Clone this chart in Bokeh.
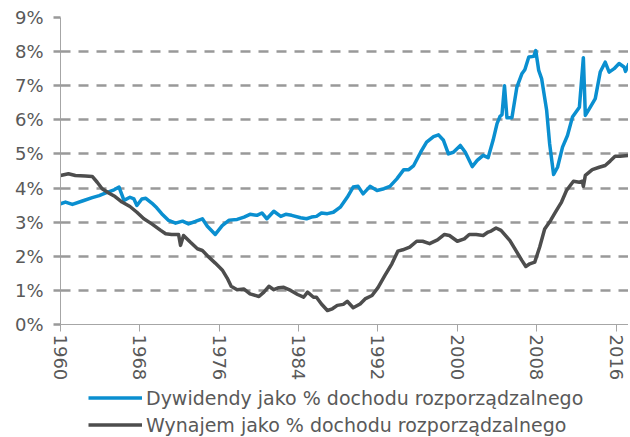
from bokeh.plotting import figure
from bokeh.layouts import column
from bokeh.models import Legend, LegendItem, FixedTicker, Range1d, ColumnDataSource, CustomJSTickFormatter
from bokeh.embed import file_html
from bokeh.resources import INLINE

div_years = [1960.0, 1960.5, 1961.2, 1962.2, 1963.2, 1963.9, 1964.5, 1965.4, 1965.9, 1966.4,
             1967.0, 1967.4, 1967.7, 1968.2, 1968.6, 1969.2, 1969.7, 1970.2, 1970.9, 1971.6,
             1972.3, 1972.9, 1973.6, 1974.3, 1974.8, 1975.6, 1976.3, 1977.0, 1977.8, 1978.5,
             1979.1, 1979.8, 1980.3, 1980.8, 1981.5, 1982.2, 1982.7, 1983.3, 1984.2, 1984.8,
             1985.3, 1985.8, 1986.3, 1986.9, 1987.5, 1988.2, 1988.9, 1989.5, 1990.0, 1990.5,
             1991.2, 1991.9, 1992.6, 1993.2, 1993.9, 1994.6, 1995.1, 1995.6, 1996.3, 1996.9,
             1997.6, 1998.1, 1998.6, 1999.1, 1999.6, 2000.3, 2000.8, 2001.5, 2002.0, 2002.6,
             2003.1, 2003.6, 2004.0, 2004.3, 2004.5, 2004.75, 2005.0, 2005.5, 2006.0, 2006.5,
             2006.8, 2007.2, 2007.7, 2007.9, 2008.2, 2008.5, 2009.0, 2009.3, 2009.7, 2010.1,
             2010.6, 2011.1, 2011.6, 2012.3, 2012.7, 2012.9, 2013.4, 2013.9, 2014.4, 2014.9,
             2015.3, 2015.8, 2016.3, 2016.8, 2016.95, 2017.3]
div_values = [3.54, 3.59, 3.52, 3.62, 3.72, 3.78, 3.85, 3.95, 4.03, 3.64,
              3.73, 3.68, 3.49, 3.68, 3.70, 3.56, 3.42, 3.25, 3.05, 2.97,
              3.03, 2.95, 3.02, 3.10, 2.88, 2.64, 2.90, 3.06, 3.08, 3.15,
              3.23, 3.20, 3.27, 3.10, 3.32, 3.17, 3.23, 3.20, 3.13, 3.10,
              3.15, 3.17, 3.27, 3.25, 3.29, 3.44, 3.73, 4.03, 4.05, 3.83,
              4.05, 3.93, 3.98, 4.05, 4.27, 4.54, 4.54, 4.66, 5.05, 5.35,
              5.51, 5.56, 5.40, 5.00, 5.05, 5.25, 5.05, 4.63, 4.81, 4.96,
              4.89, 5.40, 5.89, 6.10, 6.15, 7.00, 6.06, 6.06, 6.96, 7.35,
              7.47, 7.84, 7.86, 8.03, 7.45, 7.20, 6.28, 5.30, 4.40, 4.61,
              5.20, 5.54, 6.08, 6.37, 7.82, 6.13, 6.37, 6.62, 7.40, 7.69,
              7.40, 7.50, 7.65, 7.55, 7.42, 7.65]

rent_years = [1960.0, 1960.8, 1961.5, 1962.5, 1963.2, 1963.7, 1964.2, 1964.9, 1965.5, 1966.2,
              1967.0, 1967.7, 1968.4, 1969.2, 1970.1, 1970.6, 1971.2, 1971.9, 1972.1, 1972.4,
              1973.1, 1973.8, 1974.3, 1974.9, 1975.6, 1976.3, 1976.8, 1977.2, 1977.8, 1978.5,
              1979.1, 1980.0, 1980.5, 1981.0, 1981.5, 1982.0, 1982.5, 1983.2, 1983.9, 1984.5,
              1984.9, 1985.5, 1985.8, 1986.3, 1986.9, 1987.4, 1987.9, 1988.5, 1988.9, 1989.5,
              1990.2, 1990.7, 1991.4, 1992.0, 1992.7, 1993.4, 1994.0, 1994.5, 1995.2, 1995.9,
              1996.5, 1997.2, 1998.0, 1998.7, 1999.2, 2000.0, 2000.7, 2001.2, 2001.9, 2002.6,
              2003.1, 2003.4, 2003.9, 2004.4, 2005.3, 2006.0, 2006.5, 2006.9, 2007.3, 2007.8,
              2008.3, 2008.8, 2009.4, 2009.9, 2010.5, 2011.0, 2011.7, 2012.3, 2012.6, 2012.7,
              2012.9, 2013.6, 2014.3, 2014.9, 2015.4, 2015.9, 2016.4, 2017.3]
rent_values = [4.37, 4.42, 4.37, 4.35, 4.34, 4.17, 3.98, 3.85, 3.75, 3.59,
               3.46, 3.29, 3.10, 2.95, 2.76, 2.66, 2.64, 2.64, 2.32, 2.61,
               2.41, 2.22, 2.17, 1.99, 1.80, 1.60, 1.36, 1.12, 1.02, 1.04,
               0.90, 0.82, 0.95, 1.12, 1.02, 1.08, 1.09, 1.00, 0.88, 0.80,
               0.95, 0.80, 0.80, 0.60, 0.41, 0.46, 0.56, 0.59, 0.68, 0.49,
               0.60, 0.75, 0.85, 1.08, 1.44, 1.78, 2.15, 2.19, 2.27, 2.44,
               2.44, 2.37, 2.48, 2.64, 2.61, 2.44, 2.51, 2.64, 2.64, 2.61,
               2.71, 2.74, 2.83, 2.76, 2.46, 2.12, 1.88, 1.70, 1.78, 1.83,
               2.27, 2.80, 3.05, 3.30, 3.59, 3.93, 4.20, 4.17, 4.20, 4.05,
               4.37, 4.54, 4.61, 4.66, 4.79, 4.93, 4.93, 4.96]

x_ticks = [1960, 1968, 1976, 1984, 1992, 2000, 2008, 2016]
y_ticks = [0, 1, 2, 3, 4, 5, 6, 7, 8, 9]
grid_ticks = [1, 2, 3, 4, 5, 6, 7, 8, 9]
label_div = "Dywidendy jako % dochodu rozporządzalnego"
label_rent = "Wynajem jako % dochodu rozporządzalnego"

FONT = "DejaVu Sans"
TXT = "#595959"
AX = "#a6a6a6"
BLUE = "#0a8fd0"
DARK = "#4d4d4d"

src_div = ColumnDataSource(dict(x=div_years, y=div_values))
src_rent = ColumnDataSource(dict(x=rent_years, y=rent_values))

# ---- main chart ----
p = figure(frame_width=568, frame_height=307, output_backend="svg", toolbar_location=None,
           x_range=Range1d(1960, 2017.25), y_range=Range1d(0, 9),
           min_border_left=60, min_border_top=17, min_border_right=0, min_border_bottom=0)
p.outline_line_color = None
p.background_fill_color = "white"
p.border_fill_color = "white"

p.line("x", "y", source=src_div, line_color=BLUE, line_width=3.5, line_join="round")
p.line("x", "y", source=src_rent, line_color=DARK, line_width=3.5, line_join="round")

p.xaxis.ticker = FixedTicker(ticks=x_ticks)
p.xaxis.major_label_orientation = "vertical"
p.xaxis.major_label_text_font = FONT
p.xaxis.major_label_text_font_size = "18px"
p.xaxis.major_label_text_color = TXT
p.xaxis.major_label_standoff = 3
p.xaxis.axis_line_color = AX
p.xaxis.major_tick_line_color = AX
p.xaxis.major_tick_out = 7
p.xaxis.major_tick_in = 0
p.xaxis.minor_tick_line_color = None

p.yaxis.ticker = FixedTicker(ticks=y_ticks)
p.yaxis.formatter = CustomJSTickFormatter(code="return tick.toFixed(0) + '%';")
p.yaxis.major_label_text_font = FONT
p.yaxis.major_label_text_font_size = "18px"
p.yaxis.major_label_text_color = TXT
p.yaxis.major_label_standoff = 10
p.yaxis.axis_line_color = AX
p.yaxis.major_tick_line_color = "#999999"
p.yaxis.major_tick_line_width = 2.5
p.yaxis.major_tick_out = 7
p.yaxis.major_tick_in = 0
p.yaxis.minor_tick_line_color = None

p.xgrid.grid_line_color = None
p.ygrid.ticker = FixedTicker(ticks=grid_ticks)
p.ygrid.grid_line_color = "#999999"
p.ygrid.grid_line_width = 2.5
p.ygrid.grid_line_dash = "10 8"

# ---- legend strip (same series, out of view; only the legend shows) ----
p2 = figure(frame_width=628, frame_height=53, output_backend="svg", toolbar_location=None,
            x_axis_type=None, y_axis_type=None,
            x_range=Range1d(0, 1), y_range=Range1d(0, 1),
            min_border_left=0, min_border_top=0, min_border_right=0, min_border_bottom=0)
p2.outline_line_color = None
p2.grid.visible = False
p2.background_fill_color = "white"
p2.border_fill_color = "white"
l_div = p2.line("x", "y", source=src_div, line_color=BLUE, line_width=3.5)
l_rent = p2.line("x", "y", source=src_rent, line_color=DARK, line_width=3.5)

legend = Legend(items=[LegendItem(label=label_div, renderers=[l_div]),
                       LegendItem(label=label_rent, renderers=[l_rent])],
                location=(88, 0), orientation="vertical",
                padding=0, margin=0, spacing=4, glyph_width=54, glyph_height=23,
                label_height=23, label_standoff=4,
                label_text_font=FONT, label_text_font_size="19px", label_text_color=TXT,
                border_line_color=None, background_fill_alpha=0)
p2.add_layout(legend, "center")

layout = column(p, p2, spacing=0)
open("out.html", "w").write(file_html(layout, INLINE))
